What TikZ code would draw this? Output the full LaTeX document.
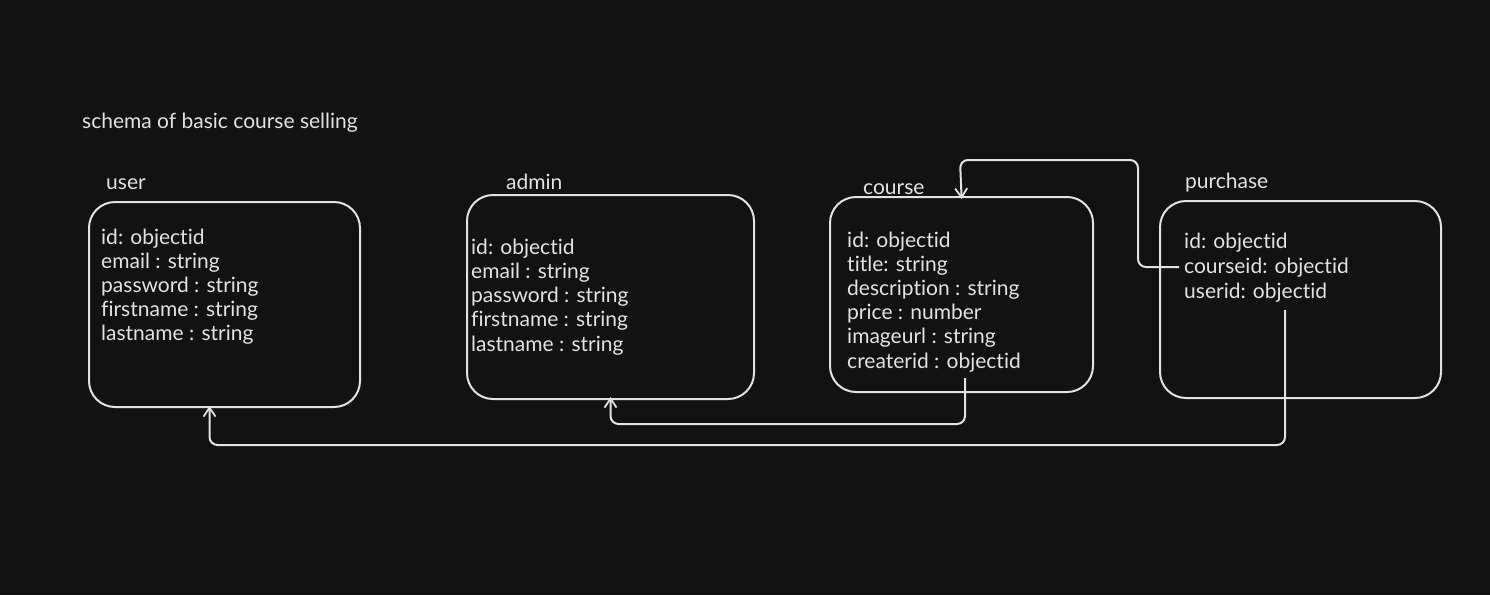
\documentclass[tikz,border=0pt]{standalone}
\usepackage{fontspec}
\setmainfont[Ligatures={NoCommon,NoRare,NoDiscretionary}]{Lato}
\usetikzlibrary{arrows.meta}
\definecolor{bg}{HTML}{121212}
\definecolor{ink}{HTML}{E2E2E2}
\begin{document}
\begin{tikzpicture}[x=1pt,y=-1pt,
  txt/.style={text=ink,font=\fontsize{21}{24}\selectfont,inner sep=0pt,anchor=base west},
  entity/.style={draw=ink,line width=2pt,rounded corners=26pt,anchor=north west,inner sep=0pt},
  conn/.style={draw=ink,line width=2pt,rounded corners=8pt},
  arr/.style={-{Straight Barb[length=9pt,width=12pt,line width=1.8pt]}}]
\fill[bg] (0,0) rectangle (1490,595);
\useasboundingbox (0,0) rectangle (1490,595);

\node[txt] (title) at (82,128) {schema of basic course selling};

% user
\node[txt] (luser) at (106,189) {user};
\node[entity,minimum width=271pt,minimum height=205pt] (user) at (88,201) {};
\foreach \t [count=\i] in {id: objectid,email : string,password : string,firstname : string,lastname : string}
  \node[txt] (u\i) at (101,{244+24*(\i-1)}) {\t};

% admin
\node[txt] (ladmin) at (506,189) {admin};
\node[entity,minimum width=287pt,minimum height=204pt] (admin) at (466,194) {};
\foreach \t [count=\i] in {id: objectid,email : string,password : string,firstname : string,lastname : string}
  \node[txt] (a\i) at (471,{254+24.3*(\i-1)}) {\t};

% course
\node[txt] (lcourse) at (863,194) {course};
\node[entity,minimum width=263pt,minimum height=195pt] (course) at (829,196) {};
\foreach \t [count=\i] in {id: objectid,title: string,description : string,price : number,imageurl : string,createrid : objectid}
  \node[txt] (c\i) at (847,{247+24.2*(\i-1)}) {\t};

% purchase
\node[txt] (lpurchase) at (1185,188) {purchase};
\node[entity,minimum width=281pt,minimum height=197pt] (purchase) at (1159,200) {};
\foreach \t [count=\i] in {id: objectid,courseid: objectid,userid: objectid}
  \node[txt] (p\i) at (1184,{248+25*(\i-1)}) {\t};

% connectors
\coordinate (cs) at (965,378);
\coordinate (us) at (1285,310);
\draw[conn,arr,shorten >=-3pt] (cs) -- (965,424) -| (admin.south);
\draw[conn,arr,shorten >=-2pt] (us) -- (1285,445) -| ([xshift=-15pt]user.south);
\draw[conn,arr,shorten >=-3pt] ([xshift=-5pt]p2.west) -- (1138,267) |- (960,160) -- (course.north);
\end{tikzpicture}
\end{document}
